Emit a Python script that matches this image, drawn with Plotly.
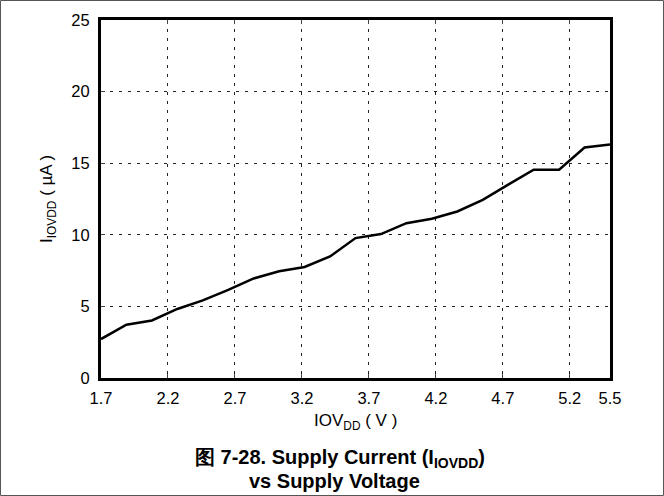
import plotly.graph_objects as go

voltage = [1.70, 1.89, 2.08, 2.27, 2.46, 2.65, 2.84, 3.03, 3.22, 3.41, 3.60,
           3.79, 3.98, 4.17, 4.36, 4.55, 4.74, 4.93, 5.12, 5.31, 5.50]
current = [2.72, 3.72, 4.02, 4.82, 5.42, 6.15, 6.95, 7.45, 7.75, 8.49, 9.77,
           10.05, 10.81, 11.12, 11.63, 12.44, 13.5, 14.54, 14.54, 16.1, 16.3]
x_ticks = [1.7, 2.2, 2.7, 3.2, 3.7, 4.2, 4.7, 5.2, 5.5]
y_ticks = [0, 5, 10, 15, 20, 25]

W, H = 664, 496
ml, mr, mt, mb = 101, 54, 20, 118
pw, ph = W - ml - mr, H - mt - mb


def px_x(p):
    return (p - ml) / pw


def px_y(p):
    return (H - mb - p) / ph


fig = go.Figure()
fig.add_trace(go.Scatter(x=voltage, y=current, mode="lines",
                         line=dict(color="black", width=2.5), showlegend=False))

font = "Liberation Sans, Arial, sans-serif"
axis_common = dict(showline=True, linewidth=3, linecolor="black",
                   showgrid=True, gridcolor="#222", gridwidth=1, griddash="3px,6px",
                   ticks="inside", ticklen=4, tickcolor="#444", zeroline=False,
                   tickfont=dict(family=font, size=16.5, color="black"))

fig.update_xaxes(range=[1.7, 5.5], tickvals=x_ticks, ticktext=[f"{v:.1f}" for v in x_ticks],
                 mirror="ticks", ticklabelstandoff=3, **axis_common)
fig.update_yaxes(range=[0, 25], tickvals=y_ticks, mirror=True, ticklabelstandoff=5,
                 **axis_common)

fig.add_annotation(text="IOV<sub>DD</sub> ( V )", xref="paper", yref="paper",
                   x=px_x(355), y=px_y(422), xanchor="center", yanchor="middle",
                   showarrow=False, font=dict(family=font, size=17, color="black"))
fig.add_annotation(text="I<sub>IOVDD</sub> ( µA )", xref="paper", yref="paper",
                   x=px_x(48), y=px_y(199), xanchor="center", yanchor="middle",
                   textangle=-90, showarrow=False,
                   font=dict(family=font, size=17, color="black"))

fig.add_annotation(text="<b>图 7-28. Supply Current (I<sub>IOVDD</sub>)</b>",
                   xref="paper", yref="paper", x=px_x(340), y=px_y(458),
                   xanchor="center", yanchor="middle", showarrow=False,
                   font=dict(family=font, size=20, color="black"))
fig.add_annotation(text="<b>vs Supply Voltage</b>",
                   xref="paper", yref="paper", x=px_x(334), y=px_y(481),
                   xanchor="center", yanchor="middle", showarrow=False,
                   font=dict(family=font, size=20, color="black"))

fig.add_shape(type="rect", xref="paper", yref="paper",
              x0=px_x(0.5), x1=px_x(W - 0.5), y0=px_y(H - 0.5), y1=px_y(0.5),
              line=dict(color="#555", width=1), layer="below")

fig.update_layout(width=W, height=H, margin=dict(l=ml, r=mr, t=mt, b=mb),
                  paper_bgcolor="white", plot_bgcolor="white",
                  font=dict(family=font, color="black"))

fig.write_html("out.html", config={"displayModeBar": False},
               post_script="document.body.style.margin='0';"
                           "document.documentElement.style.overflow='hidden';")
